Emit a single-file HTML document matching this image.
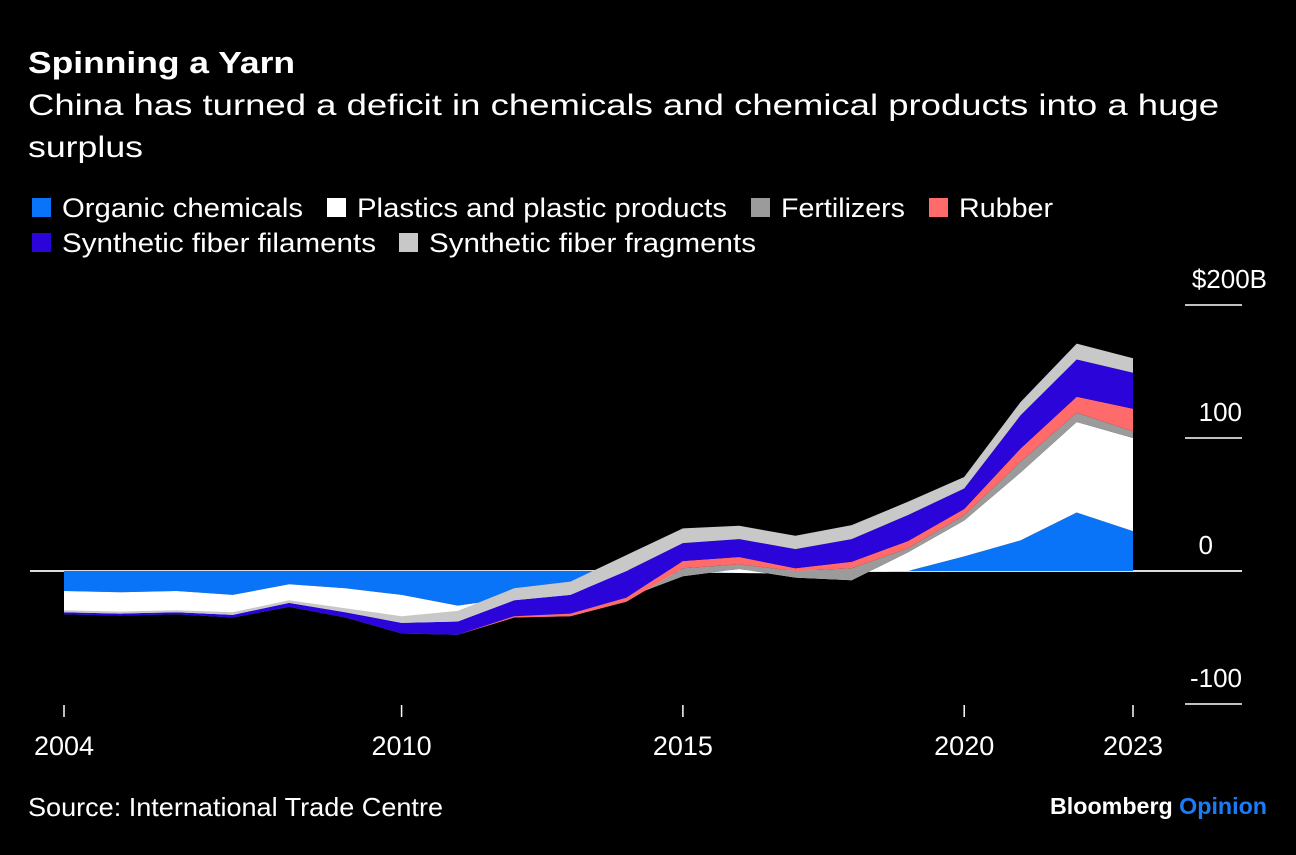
<!DOCTYPE html>
<html><head><meta charset="utf-8">
<style>
html,body{margin:0;padding:0;background:#000;}
body{width:1296px;height:850px;overflow:hidden;font-family:"Liberation Sans",Arial,sans-serif;color:#fff;}
svg text{font-family:"Liberation Sans",Arial,sans-serif;}
</style></head>
<body>
<svg id="chart" width="1296" height="850" viewBox="0 0 1296 850" xmlns="http://www.w3.org/2000/svg">
<rect width="1296" height="850" fill="#000"/>
<text x="28" y="73" font-size="31" font-weight="bold" fill="#fff" textLength="267" lengthAdjust="spacingAndGlyphs">Spinning a Yarn</text>
<text x="28" y="115" font-size="30" fill="#fff" textLength="1191" lengthAdjust="spacingAndGlyphs">China has turned a deficit in chemicals and chemical products into a huge</text>
<text x="28" y="157" font-size="30" fill="#fff" textLength="115" lengthAdjust="spacingAndGlyphs">surplus</text>
<g id="legend"></g>
<g id="axes"></g>
<g id="areas"></g>
<text x="28" y="816" font-size="26" fill="#fff" textLength="415" lengthAdjust="spacingAndGlyphs">Source: International Trade Centre</text>
<text x="1050" y="814" font-size="23" font-weight="bold" fill="#fff" textLength="217" lengthAdjust="spacingAndGlyphs">Bloomberg <tspan fill="#1a7cf8">Opinion</tspan></text>
</svg>
<script>
const years = [2004,2005,2006,2007,2008,2009,2010,2011,2012,2013,2014,2015,2016,2017,2018,2019,2020,2021,2022,2023];
const organic    = [-15,-16,-15,-18,-10,-13,-18,-26,-20,-14,-10,-1,-1.5,-2,-1,0,11,23,44,30];
const plastics   = [-17,-17,-17,-16,-16,-21,-28,-20,-13,-18,-10,-3,3,-3,-6,14,27,51,68,70];
const fertilizers= [-0.5,-0.5,-0.5,-1,-1,-1,-1,-2,-2,-2,-3,6,3.5,5,9,3,4,8,7,5];
const rubber     = [0,0,0,0,0,0,0,0,1,2,3,5.5,5.5,2,5,5.5,4.6,10,12,17];
const filaments  = [1.5,1.5,1.5,2,3,4,8,10,12,14,20,13.5,13.5,14.5,17,19.5,15.4,25,28,27];
const fragments  = [1.5,1.5,1.5,2,2,3,5,8,9,10,12,11,10,10,10.5,10,8.7,10,12,11];
const seriesNames = ["Organic chemicals","Plastics and plastic products","Fertilizers","Rubber","Synthetic fiber filaments","Synthetic fiber fragments"];
const yTicks = [200,100,0,-100];
const yTickLabels = ["$200B","100","0","-100"];
const xTicks = [2004,2010,2015,2020,2023];

const colors = ["#0a74f8","#ffffff","#9b9b9b","#ff6a6a","#2a04d8","#c8c8c8"];
const NS = "http://www.w3.org/2000/svg";
const x = yr => 64 + (yr-2004)*(1133-64)/19;
const y = v => 571 - v*1.33;
function mk(tag, attrs, parent){const e=document.createElementNS(NS,tag);for(const k in attrs)e.setAttribute(k,attrs[k]);parent.appendChild(e);return e;}

const axes = document.getElementById('axes');
const zl = mk('line',{x1:30,x2:1242,y1:y(0),y2:y(0),stroke:'#ddd','stroke-width':2},axes);


yTicks.forEach((t,i)=>{
  if(t!==0){
    const l = mk('line',{x1:1185,x2:1242,y1:y(t),y2:y(t),stroke:'#fff','stroke-width':1.5},axes);
    
    
  }
  const ax = t===200 ? 1267 : (t===0 ? 1213 : 1242);
  const tx = mk('text',{x:ax,y:y(t)-17,'font-size':26,'text-anchor':'end',fill:'#fff'},axes);
  
  
  tx.textContent = yTickLabels[i];
});
xTicks.forEach(t=>{
  const l = mk('line',{x1:x(t),x2:x(t),y1:705,y2:717,stroke:'#fff','stroke-width':1.5},axes);
  
  
  const tx = mk('text',{x:x(t),y:755,'font-size':27,'text-anchor':'middle',fill:'#fff'},axes);
  
  
  tx.textContent = t;
});

const series = [organic,plastics,fertilizers,rubber,filaments,fragments];
const areas = document.getElementById('areas');
let prev = years.map(()=>0);
series.forEach((s,si)=>{
  const cur = prev.map((p,i)=>p+s[i]);
  let d = years.map((yr,i)=>(i?'L':'M')+x(yr).toFixed(1)+','+y(cur[i]).toFixed(1)).join('');
  for(let i=years.length-1;i>=0;i--) d += 'L'+x(years[i]).toFixed(1)+','+y(prev[i]).toFixed(1);
  d += 'Z';
  const p = mk('path',{d:d,fill:colors[si]},areas);
  
  
  prev = cur;
});

const legend = document.getElementById('legend');
const lpos = [[62,207,241],[357,207,370],[781,207,124],[959,207,94],[62,242,314],[429,242,327]];
seriesNames.forEach((n,i)=>{
  const r = mk('rect',{x:lpos[i][0]-30,y:lpos[i][1]-9,width:19,height:19,fill:colors[i]},legend);
  
  
  const t = mk('text',{x:lpos[i][0],y:lpos[i][1]+10,'font-size':27,fill:'#fff',textLength:lpos[i][2],lengthAdjust:'spacingAndGlyphs'},legend);
  
  
  t.textContent = n;
});
</script>
</body></html>
